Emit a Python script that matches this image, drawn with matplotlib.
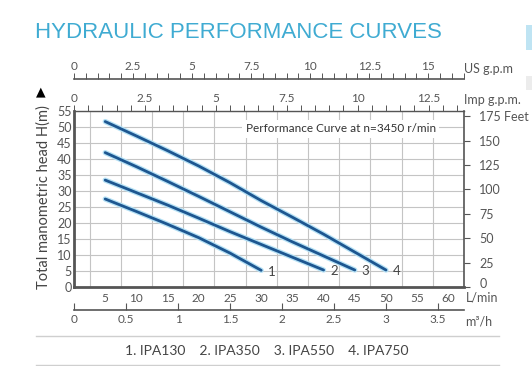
import matplotlib
matplotlib.use("Agg")
import matplotlib.pyplot as plt
import matplotlib.transforms as mtransforms
import numpy as np

# ---------------- data ----------------
flow_lpm_1 = [5, 10, 15, 20, 25, 30]
head_m_1 = [27.5, 23.6, 19.6, 15.4, 10.6, 5.2]
flow_lpm_2 = [5, 10, 15, 20, 25, 30, 35, 40]
head_m_2 = [33.4, 29.5, 25.6, 21.5, 17.3, 13.3, 9.3, 5.3]
flow_lpm_3 = [5, 10, 15, 20, 25, 30, 35, 40, 45]
head_m_3 = [42.0, 37.6, 33.0, 28.3, 23.5, 18.7, 14.1, 9.7, 5.3]
flow_lpm_4 = [5, 10, 15, 20, 25, 30, 35, 40, 45, 50]
head_m_4 = [51.7, 47.2, 42.6, 37.8, 32.6, 27.0, 21.8, 16.5, 10.9, 5.3]
curve_ids = ["1", "2", "3", "4"]
models = ["1. IPA130", "2. IPA350", "3. IPA550", "4. IPA750"]

lpm_ticks = [5, 10, 15, 20, 25, 30, 35, 40, 45, 50, 55, 60]
head_ticks = [0, 5, 10, 15, 20, 25, 30, 35, 40, 45, 50, 55]
feet_ticks = [0, 25, 50, 75, 100, 125, 150, 175]
us_ticks = [0, 2.5, 5, 7.5, 10, 12.5, 15]
imp_ticks = [0, 2.5, 5, 7.5, 10, 12.5]
m3h_ticks = [0, 0.5, 1, 1.5, 2, 2.5, 3, 3.5]

US_GAL = 3.785
IMP_GAL = 4.546
M3H = 1000 / 60.0
FT = 0.3048

W, H = 532, 366
fig = plt.figure(figsize=(W / 100, H / 100), dpi=100)
plt.rcParams['font.family'] = ['Lato', 'DejaVu Sans']

def fx(px):
    return px / W

def fy(py):
    return 1 - py / H

x0, x1, ytop, ybot = 74, 464, 111, 287
ax = fig.add_axes([fx(x0), fy(ybot), fx(x1) - fx(x0), (ybot - ytop) / H])
ax.set_xlim(0, 62.5)
ax.set_ylim(0, 55)

tick_col = "#555555"
frame_col = "#555555"

# grid
ax.set_xticks(np.arange(0, 62.6, 2.5), minor=True)
ax.set_yticks(head_ticks)
ax.grid(True, which='minor', axis='x', color='#c4c4c4', lw=0.8)
ax.grid(True, which='major', axis='y', color='#c4c4c4', lw=0.8)
ax.set_axisbelow(True)
ax.set_xticks(lpm_ticks)
ax.tick_params(axis='x', which='both', length=0, pad=4, labelsize=8.5, labelcolor=tick_col)
ax.tick_params(axis='y', which='both', length=0, pad=1.5, labelsize=9, labelcolor=tick_col)
ax.set_yticklabels([str(v) for v in head_ticks])
for s in ['left', 'bottom']:
    ax.spines[s].set_color(frame_col)
    ax.spines[s].set_linewidth(2.0)
ax.spines['top'].set_color(frame_col)
ax.spines['top'].set_linewidth(1.0)
ax.spines['right'].set_color(frame_col)
ax.spines['right'].set_linewidth(1.2)

# curves
flows = [flow_lpm_1, flow_lpm_2, flow_lpm_3, flow_lpm_4]
heads = [head_m_1, head_m_2, head_m_3, head_m_4]
for fl, hd, cid in zip(flows, heads, curve_ids):
    ax.plot(fl, hd, color='#b5e1f5', lw=3.8, solid_capstyle='round', zorder=3)
    ax.plot(fl, hd, color='#1d5690', lw=2.0, solid_capstyle='round', zorder=4)
    ax.annotate(cid, xy=(fl[-1], hd[-1]), xytext=(5, -1), textcoords='offset points',
                ha='left', va='center', fontsize=9.5, color='#444444', zorder=5)

ax.text(0.44, 0.9, "Performance Curve at n=3450 r/min", transform=ax.transAxes,
        fontsize=8.5, color='#333333', ha='left', va='center', zorder=6,
        bbox=dict(boxstyle='square,pad=0.3', fc='white', ec='none'))

# right axis: feet
axr = ax.twinx()
axr.set_ylim(0, 55 / FT)
axr.set_yticks(feet_ticks)
axr.set_yticklabels([str(v) if v != 175 else "175 Feet" for v in feet_ticks])
axr.tick_params(axis='y', direction='out', length=4, width=0.8, color=frame_col,
                pad=7, labelsize=9, labelcolor=tick_col)
for s in axr.spines.values():
    s.set_visible(False)
lbl0 = axr.get_yticklabels()[0]
lbl0.set_transform(lbl0.get_transform() + mtransforms.ScaledTranslation(0, 4 / 100, fig.dpi_scale_trans))

# top: Imperial gpm on the plot frame
sec_imp = ax.secondary_xaxis('top', functions=(lambda v: v / IMP_GAL, lambda v: v * IMP_GAL))
sec_imp.set_xticks(imp_ticks)
sec_imp.set_xticklabels(["0", "2.5", "5", "7.5", "10", "12.5"])
sec_imp.set_xticks(np.arange(0, 13.8, 0.5), minor=True)
sec_imp.tick_params(which='both', direction='out', length=4, width=0.7, color=frame_col,
                    pad=1, labelsize=8.5, labelcolor=tick_col)
sec_imp.spines['top'].set_visible(False)

# top: US gpm separate line
loc_us = (ybot - 79) / (ybot - ytop)
sec_us = ax.secondary_xaxis(loc_us, functions=(lambda v: v / US_GAL, lambda v: v * US_GAL))
sec_us.set_xticks(us_ticks)
sec_us.set_xticklabels(["0", "2.5", "5", "7.5", "10", "12.5", "15"])
sec_us.set_xticks(np.arange(0, 16.6, 0.5), minor=True)
sec_us.tick_params(which='both', direction='out', length=4, width=0.7, color=frame_col,
                   pad=1, labelsize=8.5, labelcolor=tick_col)
sec_us.spines['top'].set_color(frame_col)
sec_us.spines['top'].set_linewidth(1.2)

# bottom: m3/h line
loc_m3 = (ybot - 310) / (ybot - ytop)
sec_m3 = ax.secondary_xaxis(loc_m3, functions=(lambda v: v / M3H, lambda v: v * M3H))
sec_m3.set_xticks(m3h_ticks)
sec_m3.set_xticklabels(["0", "0.5", "1", "1.5", "2", "2.5", "3", "3.5"])
sec_m3.set_xticks(np.arange(0, 3.75, 0.1), minor=True)
sec_m3.tick_params(which='major', direction='in', length=5, width=0.8, color=frame_col,
                   pad=3, labelsize=8.5, labelcolor=tick_col)
sec_m3.tick_params(which='minor', direction='in', length=0)
sec_m3.spines['bottom'].set_color(frame_col)
sec_m3.spines['bottom'].set_linewidth(1.2)

# unit labels
unit_kw = dict(fontsize=9, color=tick_col, ha='left', va='center')
fig.text(fx(464), fy(69), "US g.p.m", **unit_kw)
fig.text(fx(464), fy(100), "Imp g.p.m.", **unit_kw)
fig.text(fx(466), fy(297), "L/min", **unit_kw)
fig.text(fx(465), fy(321), "m³/h", **unit_kw)

# y label + arrow
fig.text(fx(44), fy(197), "Total manometric head H(m)", rotation=90, fontsize=10.5,
         color='#444444', ha='center', va='center')
fig.text(fx(41), fy(92), "▲", fontsize=9, color='black', ha='center', va='center',
         family=['DejaVu Sans'])

# title
fig.text(fx(35), fy(32), "HYDRAULIC PERFORMANCE CURVES", fontsize=16, color='#3fabd2',
         ha='left', va='center', family=['Liberation Sans', 'DejaVu Sans'])

# legend area
fig.add_artist(plt.Line2D([fx(36), fx(499)], [fy(336), fy(336)], color='#cfcfcf', lw=1.0))
fig.add_artist(plt.Line2D([fx(36), fx(499)], [fy(365), fy(365)], color='#cfcfcf', lw=1.0))
fig.text(fx(267), fy(351), "    ".join(models), fontsize=10, color='#444444',
         ha='center', va='center')

# cropped element on the right edge
fig.add_artist(plt.Rectangle((fx(526), fy(50)), fx(6), 25 / H, color='#bfe4f3', lw=0))
fig.add_artist(plt.Rectangle((fx(526), fy(90)), fx(6), 14 / H, color='#ececec', lw=0))

fig.savefig("out.png", dpi=100)
